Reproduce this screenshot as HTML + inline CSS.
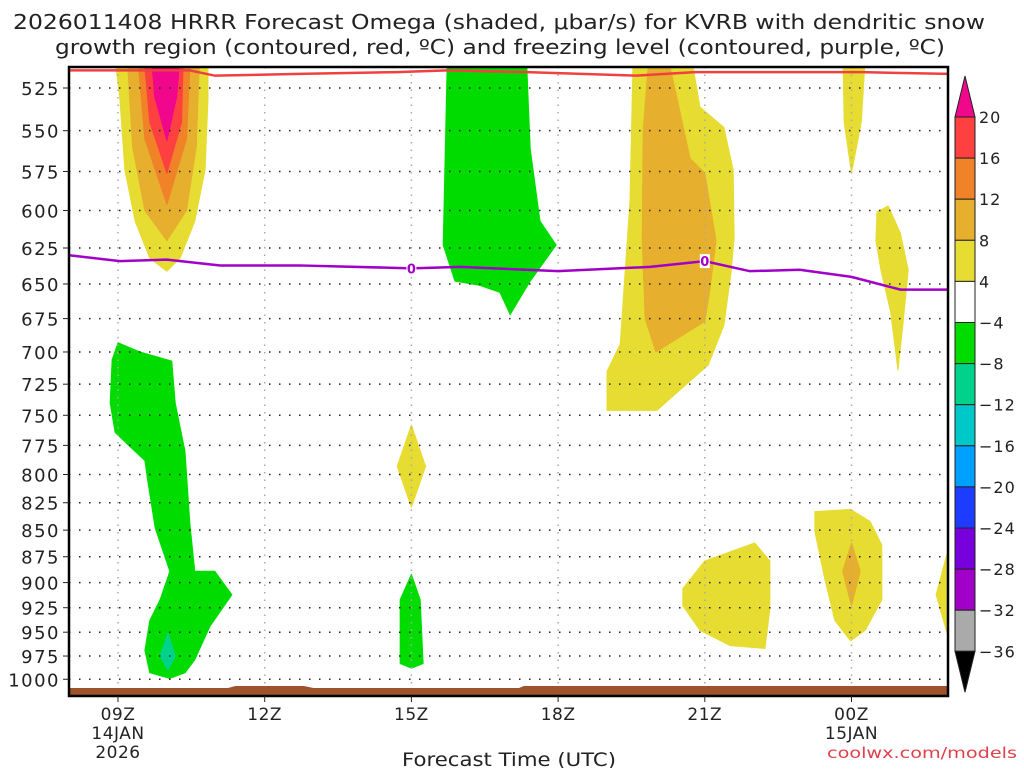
<!DOCTYPE html>
<html><head><meta charset="utf-8"><style>
body{margin:0;background:#fff;width:1024px;height:768px;overflow:hidden;font-family:"DejaVu Sans",sans-serif}
svg text{font-family:"DejaVu Sans","Liberation Sans",sans-serif;fill:#222}
</style></head><body>
<svg id="chart" width="1024" height="768" xmlns="http://www.w3.org/2000/svg">
<text x="499" y="29" font-size="20.5" text-anchor="middle" textLength="972" lengthAdjust="spacingAndGlyphs">2026011408 HRRR Forecast Omega (shaded, μbar/s) for KVRB with dendritic snow</text>
<text x="500" y="54" font-size="20.5" text-anchor="middle" textLength="890" lengthAdjust="spacingAndGlyphs">growth region (contoured, red, ºC) and freezing level (contoured, purple, ºC)</text>
<g id="plot"></g>
<g id="cbar"></g>
<text x="509" y="766" font-size="19" text-anchor="middle" textLength="214" lengthAdjust="spacingAndGlyphs">Forecast Time (UTC)</text>
<text x="1017" y="758" font-size="15" text-anchor="end" textLength="190" lengthAdjust="spacingAndGlyphs" style="fill:#e0404a">coolwx.com/models</text>
</svg>
<script>
const pLevels=[525,550,575,600,625,650,675,700,725,750,775,800,825,850,875,900,925,950,975,1000];
const xTickHours=[0,3,6,9,12,15];
const xTickLabels=[["09Z","14JAN","2026"],["12Z"],["15Z"],["18Z"],["21Z"],["00Z","15JAN"]];
const cbLevels=["20","16","12","8","4","−4","−8","−12","−16","−20","−24","−28","−32","−36"];
const cbColors=["#fe4040","#f08228","#e6af2d","#e6dc32","#ffffff","#00dc00","#00d28c","#00c8c8","#00a0ff","#1e3cff","#7800dc","#a000c8","#aaaaaa"];
const yel="#e6dc32",org="#e6af2d",ora="#f08228",red="#fe4040",mag="#f0078c",grn="#00dc00",tea="#00d28c";
const regions=[
[yel,[[-0.04,513],[0.04,532],[0.14,574],[0.35,607],[0.65,632],[1.0,641],[1.27,632],[1.57,607],[1.78,574],[1.84,532],[1.84,513]]],
[org,[[0.2,513],[0.3,560],[0.55,600],[1.0,620],[1.4,600],[1.6,560],[1.66,513]]],
[ora,[[0.42,513],[0.55,555],[1.0,596],[1.4,555],[1.47,513]]],
[red,[[0.55,513],[0.65,545],[1.0,576],[1.3,545],[1.33,513]]],
[mag,[[0.7,513],[0.75,530],[1.0,556],[1.2,530],[1.25,513]]],
[grn,[[6.73,513],[8.36,513],[8.43,561],[8.63,607],[8.96,623],[8.43,648],[8.02,672],[7.81,656],[7.4,651],[6.89,648],[6.65,623]]],
[yel,[[10.53,513],[11.76,513],[11.9,536],[12.39,548],[12.58,574],[12.6,618],[12.54,641],[12.39,680],[12.07,710],[11.02,746],[10.0,746],[10.0,715],[10.27,694],[10.47,594]]],
[org,[[10.84,513],[11.29,513],[11.7,567],[12.0,576],[12.23,620],[12.1,655],[12.0,677],[11.0,700],[10.78,675],[10.72,620],[10.74,550]]],
[yel,[[14.83,513],[15.27,513],[15.2,545],[15.0,576],[14.85,545]]],
[yel,[[15.52,601],[15.75,597],[16.0,615],[16.16,640],[16.05,680],[15.95,714],[15.8,670],[15.6,640],[15.5,620]]],
[grn,[[0,693],[0.45,700],[1.1,707],[1.17,740],[1.37,780],[1.47,844],[1.57,889],[1.98,889],[2.33,912],[1.88,944],[1.57,979],[1.37,993],[1.06,999],[0.65,993],[0.55,969],[0.65,938],[0.86,917],[1.06,889],[0.76,848],[0.61,806],[0.55,788],[0.14,772],[-0.06,764],[-0.16,740],[-0.12,706]]],
[tea,[[1.02,951],[1.17,975],[1.02,990],[0.86,975]]],
[yel,[[6,758],[6.29,793],[6,829],[5.71,793]]],
[grn,[[6,892],[6.18,917],[6.24,983],[6,988],[5.77,983],[5.77,917]]],
[yel,[[11.55,906],[12.0,879],[13.02,862],[13.33,879],[13.33,927],[13.23,967],[12.52,964],[11.9,948],[11.55,923]]],
[yel,[[14.25,833],[14.98,831],[15.38,842],[15.62,864],[15.62,917],[15.28,948],[14.98,959],[14.66,938],[14.46,898],[14.25,851]]],
[org,[[15.0,862],[15.18,889],[15.0,923],[14.82,889]]],
[yel,[[17,864],[16.73,912],[17,959]]]
];
const dgzHours=[-1,1.47,1.98,3.7,5.7,6.73,8.36,10.6,11.8,13.8,15.2,17];
const dgzP=[515,515,518,517,516,515,516,518,516,516,516,517];
const frzHours=[-1,0.04,1.0,2.09,3.7,6.0,7.0,9.0,10.88,12.0,12.92,13.94,15.0,16.0,17];
const frzP=[630,634,633,637,637,639,638,641,638,634,641,640,645,654,654];
const ns="http://www.w3.org/2000/svg";
const L=69,R=948,T=67,B=696;
const X=h=>118+48.9*h;
const Y=p=>88+917.6*Math.log(p/525);
function mk(tag,attrs,parent){const e=document.createElementNS(ns,tag);for(const k in attrs)e.setAttribute(k,attrs[k]);parent.appendChild(e);return e;}
const plot=document.getElementById('plot');
const defs=mk('defs',{},plot);
const cp=mk('clipPath',{id:'clip'},defs);mk('rect',{x:L,y:T,width:R-L,height:B-T},cp);
const g=mk('g',{'clip-path':'url(#clip)'},plot);
regions.forEach((r,i)=>{const e=mk('polygon',{points:r[1].map(q=>X(q[0])+','+Y(q[1])).join(' '),fill:r[0],'stroke':r[0],'stroke-width':1,'stroke-linejoin':'round'},g);

});
const gr=mk('path',{d:`M${L} ${B} L${L} 688 L${X(2.25)} 688 L${X(2.4)} 686 L${X(3.8)} 686 L${X(4)} 688 L${X(8.2)} 688 L${X(8.3)} 686 L${R} 686 L${R} ${B} Z`,fill:'#a0522d'},g);


pLevels.forEach(p=>{const l=mk('line',{x1:L,x2:R,y1:Y(p),y2:Y(p),stroke:'#222','stroke-width':1.5,'stroke-dasharray':'1.5 8.5'},g);

});
xTickHours.forEach(h=>{const l=mk('line',{x1:X(h),x2:X(h),y1:T,y2:B-8,stroke:'#aaa','stroke-width':1.5,'stroke-dasharray':'1.5 6'},g);

});
const dl=mk('polyline',{points:dgzHours.map((h,i)=>X(h)+','+Y(dgzP[i])).join(' '),fill:'none',stroke:'#f04040','stroke-width':2.5},g);


const fl=mk('polyline',{points:frzHours.map((h,i)=>X(h)+','+Y(frzP[i])).join(' '),fill:'none',stroke:'#a000c8','stroke-width':2.5},g);


[6,12].forEach(h=>{const p=h==6?639:634;mk('rect',{x:X(h)-5,y:Y(p)-7,width:10,height:14,fill:'#fff'},g);
const t=mk('text',{x:X(h),y:Y(p)+5,'font-size':13,'font-weight':'bold','text-anchor':'middle',style:'fill:#a000c8'},g);t.textContent='0';

});
mk('rect',{x:L,y:T,width:R-L,height:B-T,fill:'none',stroke:'#000','stroke-width':2.5},plot);
pLevels.forEach(p=>{mk('line',{x1:L-6,x2:L,y1:Y(p),y2:Y(p),stroke:'#222'},plot);
const t=mk('text',{x:L-9,y:Y(p)+7,'font-size':18,'text-anchor':'end','letter-spacing':'1.5'},plot);t.textContent=p;

});
xTickHours.forEach((h,i)=>{mk('line',{x1:X(h),x2:X(h),y1:B,y2:B+6,stroke:'#222'},plot);
xTickLabels[i].forEach((s,j)=>{const t=mk('text',{x:X(h),y:720+j*19,'font-size':17,'text-anchor':'middle','letter-spacing':'0.5'},plot);t.textContent=s;

});});
const cb=document.getElementById('cbar');const cx=955,cw=20,c0=117,cs=41.1;
mk('polygon',{points:`${cx},${c0} ${cx+cw/2},${c0-41} ${cx+cw},${c0}`,fill:'#f0078c',stroke:'#222'},cb);
cbColors.forEach((c,i)=>{const r=mk('rect',{x:cx,y:c0+i*cs,width:cw,height:cs,fill:c,stroke:'#222','stroke-width':1},cb);

});
const cend=c0+cbColors.length*cs;
mk('polygon',{points:`${cx},${cend} ${cx+cw/2},${cend+41} ${cx+cw},${cend}`,fill:'#000',stroke:'#222'},cb);
cbLevels.forEach((s,i)=>{const t=mk('text',{x:979,y:c0+i*cs+6,'font-size':16,'letter-spacing':'1'},cb);t.textContent=s;

});
</script>
</body></html>
